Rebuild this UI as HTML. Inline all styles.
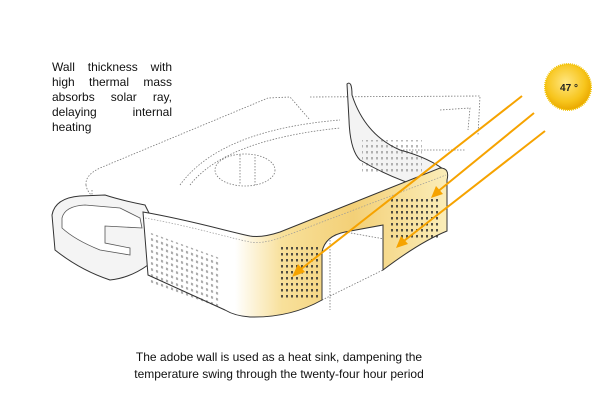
<!DOCTYPE html>
<html><head><style>
html,body{margin:0;padding:0;background:#fff;width:600px;height:417px;overflow:hidden}
.t{position:absolute;font-family:"Liberation Sans",sans-serif;font-size:12px;color:#111;line-height:15px}
</style></head><body>
<svg width="600" height="417" style="position:absolute;left:0;top:0">
<defs>
<linearGradient id="wg" x1="235" y1="0" x2="450" y2="0" gradientUnits="userSpaceOnUse">
<stop offset="0" stop-color="#fff"/><stop offset="0.22" stop-color="#f8e09a"/><stop offset="0.55" stop-color="#f3d077"/><stop offset="1" stop-color="#fbeebb"/></linearGradient>
<radialGradient id="sun" cx="0.45" cy="0.4" r="0.6"><stop offset="0" stop-color="#ffe680"/><stop offset="0.7" stop-color="#f7c51c"/><stop offset="1" stop-color="#eaa800"/></radialGradient>
<pattern id="dots" width="5" height="6" patternUnits="userSpaceOnUse"><rect x="1" y="1" width="2" height="2.5" fill="#333"/></pattern>
</defs>
<g fill="none" stroke="#777" stroke-width="0.8" stroke-dasharray="1.5 1.5">
<path d="M86 185 Q85 175 100 168 L268 98 L290 97 L310 120"/>
<path d="M310 97 L480 96 L478 135"/>
<path d="M86 185 Q88 200 120 210"/>
<path d="M92 190 L92 230 M330 240 L330 310 M322 300 L383 270 M345 232 L390 240"/>
<ellipse cx="245" cy="170" rx="30" ry="16"/>
<path d="M180 185 Q220 130 340 120 M190 185 Q225 140 340 128"/>
<path d="M240 155 L240 185 M255 157 L255 185"/>
<path d="M440 110 L470 108 L468 130 M400 150 L465 150"/>
</g>
<!-- right side wall (inner face) -->
<path d="M347 84 Q352 80 352 95 Q365 135 400 150 Q430 158 447 172 L430 190 Q390 178 360 160 Q350 150 349 120 Z" fill="#f3f3f3" stroke="#333" stroke-width="1"/>
<rect x="362" y="140" width="60" height="34" fill="url(#dots)" opacity="0.35"/>
<!-- left loop -->
<path d="M52 215 Q55 198 80 196 L105 195 Q120 200 145 205 L150 215 L148 265 Q130 278 110 280 Q80 270 55 250 Z" fill="#f4f4f4" stroke="#333" stroke-width="1"/>
<path d="M62 218 Q65 206 85 205 L120 208 L140 218 L142 228 L105 226 L105 243 L130 248 L130 255 L100 250 Q75 240 62 228 Z" fill="#fff" stroke="#555" stroke-width="0.8"/>
<!-- main wall -->
<path d="M143 212 C190 220 230 232 250 236 Q262 238 280 232 L440 168 Q450 168 447 180 L447 231 Q420 242 383 270 L383 225 L345 232 Q325 236 322 252 L322 300 Q290 318 250 317 Q235 316 225 310 L148 275 Z" fill="url(#wg)" stroke="#333" stroke-width="1"/>
<path d="M145 218 C190 226 230 238 250 242 Q262 244 280 238 L446 175" fill="none" stroke="#999" stroke-width="0.7" stroke-dasharray="1.5 1.5"/>
<rect x="150" y="236" width="70" height="50" fill="url(#dots)" opacity="0.45" transform="skewY(20) translate(0,-58)"/>
<rect x="280" y="246" width="40" height="52" fill="url(#dots)" opacity="0.85"/>
<rect x="390" y="198" width="50" height="42" fill="url(#dots)" opacity="0.85"/>
<!-- sun -->
<circle cx="568" cy="87" r="23" fill="url(#sun)" stroke="#f2c200" stroke-width="2" stroke-dasharray="1 1"/>
<text x="569" y="91" font-family="Liberation Sans,sans-serif" font-size="10" font-weight="bold" text-anchor="middle" fill="#222">47 °</text>
<!-- arrows -->
<g stroke="#f6a300" stroke-width="2" fill="#f6a300">
<line x1="522" y1="96" x2="296" y2="273"/>
<line x1="534" y1="113" x2="436" y2="193"/>
<line x1="545" y1="131" x2="400" y2="244"/>
<polygon points="292,277 298,264 305,272" stroke="none"/>
<polygon points="431,198 436,186 443,194" stroke="none"/>
<polygon points="396,248 401,236 408,244" stroke="none"/>
</g>
</svg>
<div class="t" style="left:52px;top:60px;width:120px;text-align:justify;text-align-last:justify">Wall thickness with high thermal mass absorbs solar ray, delaying internal</div>
<div class="t" style="left:52px;top:120px">heating</div>
<div class="t" style="left:0;width:558px;top:349px;text-align:center;line-height:17px">The adobe wall is used as a heat sink, dampening the<br>temperature swing through the twenty-four hour period</div>
</body></html>
